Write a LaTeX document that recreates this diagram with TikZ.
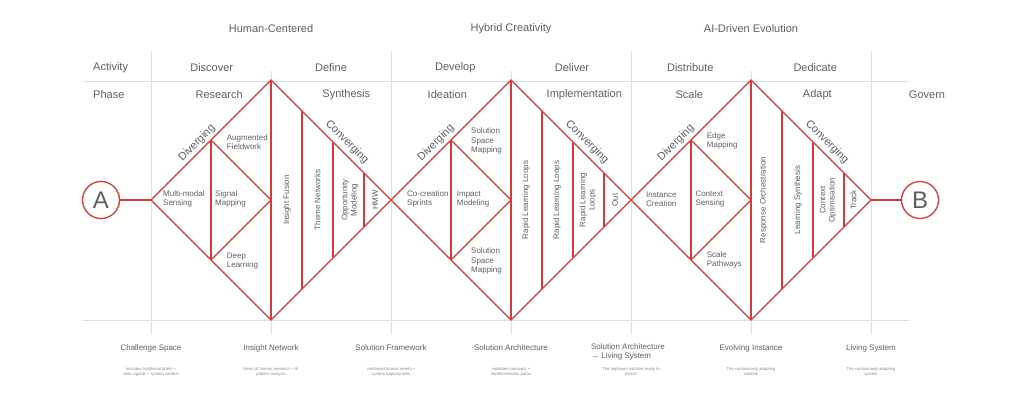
\documentclass[tikz,border=0pt]{standalone}
\usepackage{fontspec}
\setmainfont{Liberation Sans}
\definecolor{dred}{RGB}{222,53,53}
\definecolor{gridc}{RGB}{222,222,222}
\definecolor{txt}{RGB}{95,95,95}
\definecolor{ltxt}{RGB}{140,140,140}
\begin{document}
\begin{tikzpicture}[x=1pt,y=-1pt,
 gridline/.style={draw=gridc,line width=0.8pt},
 redline/.style={draw=dred,line width=1.3pt,line join=miter},
 head/.style={font=\fontsize{11}{13}\selectfont,text=txt,inner sep=0},
 inlbl/.style={font=\fontsize{8}{9.3}\selectfont,text=txt,align=left,anchor=west,inner sep=0},
 vlbl/.style={font=\fontsize{8}{9.3}\selectfont,text=txt,align=center,rotate=90,inner sep=0},
 arclbl/.style={font=\fontsize{11}{13}\selectfont,text=txt,inner sep=0},
 botlbl/.style={font=\fontsize{8}{9}\selectfont,text=txt,inner sep=0},
 desc/.style={font=\fontsize{4.2}{5.3}\selectfont,text=ltxt,align=center,inner sep=0},
 endpt/.style={circle,draw=dred,line width=1.3pt,minimum size=37pt,inner sep=0,font=\fontsize{24}{24}\selectfont,text=txt}]
\fill[white] (0,0) rectangle (1024,409);
\useasboundingbox (0,0) rectangle (1024,409);

% grid
\draw[gridline] (83,81) -- (909,81);
\draw[gridline] (83,320.5) -- (909,320.5);
\foreach \x in {151,391,631,871} \draw[gridline] (\x,51) -- (\x,335);
\foreach \x in {271,511,751} \draw[gridline] (\x,71) -- (\x,335);

% headers
\node[head] (h1) at (271,29) {Human-Centered};
\node[head] (h2) at (511,29) {Hybrid Creativity};
\node[head] (h3) at (751,29) {AI-Driven Evolution};

\node[head,anchor=west] (act) at (93,68) {Activity};
\node[head] (a1) at (211.7,68) {Discover};
\node[head] (a2) at (331,68) {Define};
\node[head] (a3) at (455.3,68) {Develop};
\node[head] (a4) at (572,68) {Deliver};
\node[head] (a5) at (690.3,68) {Distribute};
\node[head] (a6) at (815.2,68) {Dedicate};

\node[head,anchor=west] (ph) at (93,95) {Phase};
\node[head] (p1) at (219.2,95) {Research};
\node[head] (p2) at (346.3,95) {Synthesis};
\node[head] (p3) at (447.3,95) {Ideation};
\node[head] (p4) at (584.3,95) {Implementation};
\node[head] (p5) at (689.3,95) {Scale};
\node[head] (p6) at (817.3,95) {Adapt};
\node[head] (p7) at (927,95) {Govern};

% diamonds
\foreach \d in {0,240,480}{
\begin{scope}[xshift=\d]
 \coordinate (L\d) at (151,200);
 \coordinate (T\d) at (271,80);
 \coordinate (R\d) at (391,200);
 \coordinate (B\d) at (271,320);
 \coordinate (dt\d) at (211,140);
 \coordinate (db\d) at (211,260);
 \coordinate (c\d) at (271,200);
 \draw[redline] (L\d) -- (T\d) -- (R\d) -- (B\d) -- cycle;
 \draw[redline] (T\d) -- (B\d);
 \draw[redline] (dt\d) -- (db\d);
 \draw[redline] (dt\d) -- (c\d) -- (db\d);
 \draw[redline] (302,111) -- (302,289);
 \draw[redline] (333,142) -- (333,258);
 \draw[redline] (364,173) -- (364,227);
\end{scope}}

% end points
\node[endpt] (A) at (101,200) {A};
\node[endpt] (Bnode) at (920,200) {B};
\draw[redline] (A) -- (L0);
\draw[redline] (R480) -- (Bnode);

% arc labels
\node[arclbl,rotate=45] (dv1) at (197,143) {Diverging};
\node[arclbl,rotate=45] (dv2) at (436,143) {Diverging};
\node[arclbl,rotate=45] (dv3) at (676,143) {Diverging};
\node[arclbl,rotate=-45] (cv1) at (347,142) {Converging};
\node[arclbl,rotate=-45] (cv2) at (587,142) {Converging};
\node[arclbl,rotate=-45] (cv3) at (827,142) {Converging};

% diamond 1 labels
\node[inlbl] (l11) at (163,199) {Multi-modal\\Sensing};
\node[inlbl] (l12) at (215,199) {Signal\\Mapping};
\node[inlbl] (l13) at (226.7,142) {Augmented\\Fieldwork};
\node[inlbl] (l14) at (226.7,261) {Deep\\Learning};
\node[vlbl] (v11) at (287,200) {Insight Fusion};
\node[vlbl] (v12) at (317.5,200) {Theme Networks};
\node[vlbl] (v13) at (350,200) {Opportunity\\Modeling};
\node[vlbl] (v14) at (375,200) {HMW};

% diamond 2 labels
\node[inlbl] (l21) at (407,199) {Co-creation\\Sprints};
\node[inlbl] (l22) at (456.7,199) {Impact\\Modeling};
\node[inlbl] (l23) at (471,141) {Solution\\Space\\Mapping};
\node[inlbl] (l24) at (471,261) {Solution\\Space\\Mapping};
\node[vlbl] (v21) at (526,200) {Rapid Learning Loops};
\node[vlbl] (v22) at (557,200) {Rapid Learning Loops};
\node[vlbl] (v23) at (588,200) {Rapid Learning\\Loops};
\node[vlbl] (v24) at (615,200) {Out};

% diamond 3 labels
\node[inlbl] (l31) at (646,199) {Instance\\Creation};
\node[inlbl] (l32) at (695.3,199) {Context\\Sensing};
\node[inlbl] (l33) at (706.7,141) {Edge\\Mapping};
\node[inlbl] (l34) at (706.7,260) {Scale\\Pathways};
\node[vlbl] (v31) at (763.5,200) {Response Orchestration};
\node[vlbl] (v32) at (798,200) {Learning Synthesis};
\node[vlbl] (v33) at (828,200) {Context\\Optimisation};
\node[vlbl] (v34) at (853.5,200) {Track};

% bottom labels
\node[botlbl] (b1) at (151,348) {Challenge Space};
\node[botlbl] (b2) at (271,348) {Insight Network};
\node[botlbl] (b3) at (391,348) {Solution Framework};
\node[botlbl] (b4) at (511,348) {Solution Architecture};
\node[botlbl,align=left] (b5) at (628,352.3) {Solution Architecture\\→ Living System};
\node[botlbl] (b6) at (751,348) {Evolving Instance};
\node[botlbl] (b7) at (871,348) {Living System};

\node[desc] (d1) at (151,371.7) {Includes traditional briefs +\\data signals + system context};
\node[desc] (d2) at (271,371.7) {blend of human research + AI\\pattern analysis};
\node[desc] (d3) at (391,371.7) {combined human needs +\\system opportunities};
\node[desc] (d4) at (511,371.7) {validated concepts +\\implementation paths};
\node[desc] (d5) at (631,371.7) {The deployed solution ready to\\evolve};
\node[desc] (d6) at (751,371.7) {The continuously adapting\\solution};
\node[desc] (d7) at (871,371.7) {The continuously adapting\\system};
\end{tikzpicture}
\end{document}
